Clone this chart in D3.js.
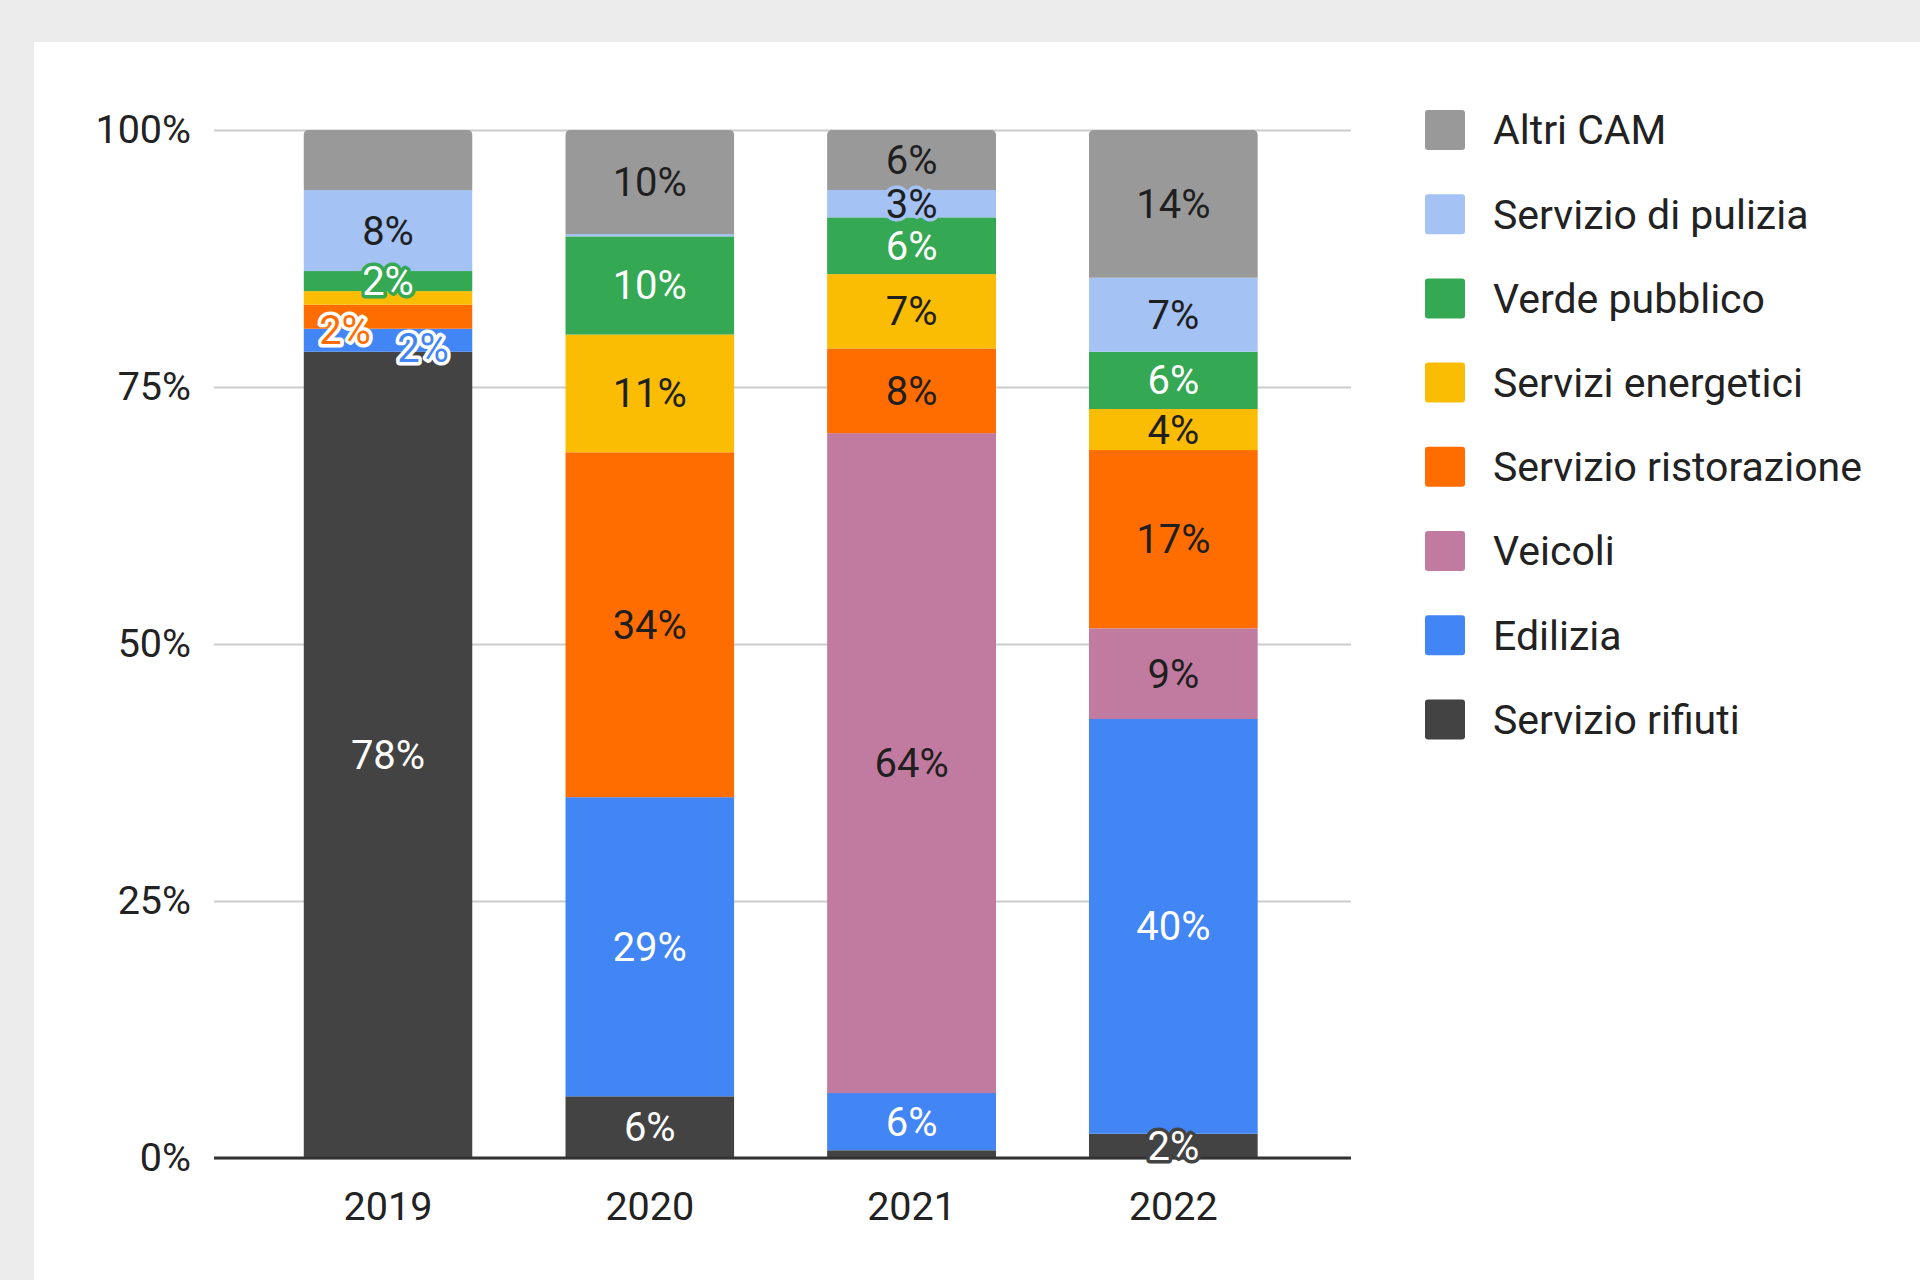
<!DOCTYPE html>
<html>
<head>
<meta charset="utf-8">
<script src="https://cdn.jsdelivr.net/npm/d3@7"></script>
<style>
    body { margin: 0; background: #ececec; }
    svg { display: block; font-family: Roboto, "Noto Sans", sans-serif; }
</style>
</head>
<body>
<div class="chart"></div>
<script>
// years on the x axis
var years = ["2019", "2020", "2021", "2022"];

// series, bottom of the stack first
var seriesNames = ["Servizio rifiuti", "Edilizia", "Veicoli", "Servizio ristorazione",
    "Servizi energetici", "Verde pubblico", "Servizio di pulizia", "Altri CAM"];

// share of each year (percent)
var servizioRifiuti = [78.43, 6.0, 0.75, 2.36];
var edilizia = [2.24, 29.1, 5.57, 40.34];
var veicoli = [0, 0, 64.2, 8.82];
var servizioRistorazione = [2.33, 33.55, 8.24, 17.34];
var serviziEnergetici = [1.33, 11.45, 7.23, 3.99];
var verdePubblico = [1.95, 9.55, 5.52, 5.57];
var servizioPulizia = [7.88, 0.23, 2.66, 7.2];
var altriCam = [5.84, 10.12, 5.84, 14.37];

var yTicks = [0, 0.25, 0.5, 0.75, 1];

var seriesValues = [servizioRifiuti, edilizia, veicoli, servizioRistorazione,
    serviziEnergetici, verdePubblico, servizioPulizia, altriCam];

var colors = ["#434343", "#4285f4", "#c27ba0", "#ff6d01", "#fbbc04", "#34a853", "#a4c2f4", "#999999"];
var ink = ["#fff", "#fff", "#1f1f1f", "#1f1f1f", "#1f1f1f", "#fff", "#1f1f1f", "#1f1f1f"];

// labels the original chart leaves out, and labels it pushes aside
var hiddenLabels = ["2019|Altri CAM"];
var movedLabels = {
    "2019|Servizio ristorazione": [-43, 13],
    "2019|Edilizia": [35, 8]
};

window.onload = () => {

    var width = 1920, height = 1280;
    var plot = { top: 130, right: 1351, bottom: 1158, left: 214 };

    var svg = d3.select(".chart").append("svg")
        .attr("width", width)
        .attr("height", height);

    // white card
    svg.append("rect")
        .attr("x", 34).attr("y", 42)
        .attr("width", width - 34).attr("height", height - 42)
        .attr("fill", "#fff");

    // build the table for the stack
    var table = years.map((yr, i) => {
        var row = { year: yr };
        seriesNames.forEach((s, j) => { row[s] = seriesValues[j][i]; });
        return row;
    });

    var stacked = d3.stack()
        .keys(seriesNames)
        .offset(d3.stackOffsetExpand)(table);

    var x = d3.scaleBand()
        .domain(years)
        .range([plot.left, plot.right])
        .paddingInner(0.3545)
        .paddingOuter(0.349)
        .align(0.49);
    var y = d3.scaleLinear()
        .domain([0, 1])
        .range([plot.bottom, plot.top]);

    // gridlines + y labels
    var yAxis = svg.append("g")
        .attr("class", "yAxis")
        .attr("transform", "translate(" + plot.left + ",0)")
        .call(d3.axisLeft(y)
            .tickValues(yTicks)
            .tickFormat(d3.format(".0%"))
            .tickSize(-(plot.right - plot.left))
            .tickPadding(23));
    yAxis.select(".domain").remove();
    yAxis.selectAll("line")
        .attr("stroke", "#cccccc")
        .attr("stroke-width", 2);
    yAxis.selectAll("text")
        .attr("fill", "#222")
        .attr("font-size", 39.5)
        .attr("font-family", "Roboto");

    // rounded tops
    var defs = svg.append("defs");
    years.forEach((yr, i) => {
        defs.append("clipPath")
            .attr("id", "clip" + i)
            .append("rect")
            .attr("x", x(yr))
            .attr("y", y(1))
            .attr("width", x.bandwidth())
            .attr("height", y(0) - y(1) + 10)
            .attr("rx", 5);
    });

    // the stacked bars
    var layers = svg.append("g").selectAll(".layer")
        .data(stacked)
        .enter().append("g")
        .attr("class", "layer")
        .attr("fill", (d, j) => colors[j]);

    layers.selectAll("rect")
        .data(d => d)
        .enter().append("rect")
        .attr("x", d => x(d.data.year))
        .attr("y", d => y(d[1]))
        .attr("width", x.bandwidth())
        .attr("height", d => y(d[0]) - y(d[1]))
        .attr("clip-path", (d, i) => "url(#clip" + i + ")");

    // baseline
    svg.append("line")
        .attr("x1", plot.left).attr("x2", plot.right)
        .attr("y1", y(0)).attr("y2", y(0))
        .attr("stroke", "#333")
        .attr("stroke-width", 3);

    // x axis labels
    var xAxis = svg.append("g")
        .attr("class", "xAxis")
        .attr("transform", "translate(0," + plot.bottom + ")")
        .call(d3.axisBottom(x).tickSize(0));
    xAxis.select(".domain").remove();
    xAxis.selectAll("text")
        .attr("y", 48)
        .attr("dy", "0.35em")
        .attr("fill", "#222")
        .attr("font-size", 39.5)
        .attr("font-family", "Roboto");

    // value labels
    var labels = [];
    stacked.forEach((layer, j) => {
        layer.forEach(d => {
            var share = d[1] - d[0];
            var key = d.data.year + "|" + layer.key;
            if (share < 0.015 || hiddenLabels.indexOf(key) >= 0) return;
            labels.push({ d: d, j: j, key: key, share: share });
        });
    });

    svg.append("g").selectAll("text")
        .data(labels)
        .enter().append("text")
        .attr("x", l => x(l.d.data.year) + x.bandwidth() / 2 + (movedLabels[l.key] ? movedLabels[l.key][0] : 0))
        .attr("y", l => y((l.d[0] + l.d[1]) / 2) + (movedLabels[l.key] ? movedLabels[l.key][1] : 0))
        .attr("dy", "0.35em")
        .attr("text-anchor", "middle")
        .attr("font-size", 40)
        .attr("paint-order", "stroke")
        .attr("stroke-linejoin", "round")
        .attr("fill", l => movedLabels[l.key] ? colors[l.j] : ink[l.j])
        .attr("stroke", l => {
            if (movedLabels[l.key]) return "#fff";
            var h = y(l.d[0]) - y(l.d[1]);
            return h < 32 ? colors[l.j] : "none";
        })
        .attr("stroke-width", 7)
        .text(l => Math.round(l.share * 100) + "%");

    // legend, top of the stack first
    var legend = svg.append("g").selectAll(".legend")
        .data(seriesNames.slice().reverse())
        .enter().append("g")
        .attr("class", "legend")
        .attr("transform", (d, i) => "translate(1425," + (130 + i * 84.2) + ")");

    legend.append("rect")
        .attr("y", -20)
        .attr("width", 40)
        .attr("height", 40)
        .attr("rx", 3)
        .attr("fill", d => colors[seriesNames.indexOf(d)]);

    legend.append("text")
        .attr("x", 68)
        .attr("dy", "0.35em")
        .attr("fill", "#222")
        .attr("font-size", 41)
        .text(d => d);
}
</script>
</body>
</html>
